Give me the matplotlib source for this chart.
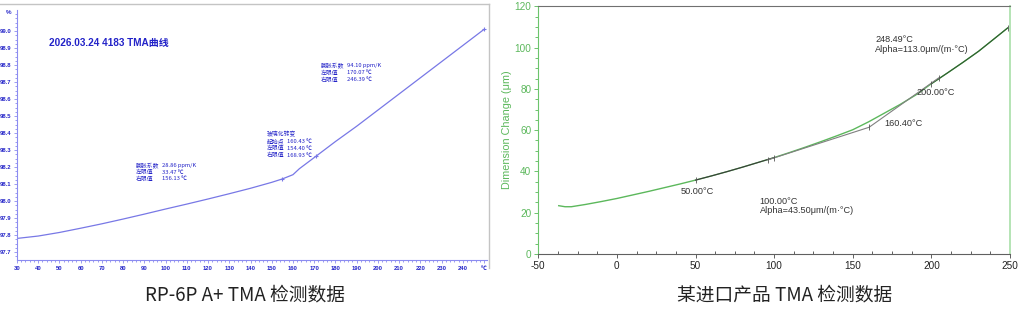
import numpy as np
import matplotlib
matplotlib.use("Agg")
import matplotlib.pyplot as plt
from matplotlib.lines import Line2D
from matplotlib.ticker import MultipleLocator

plt.rcParams["font.family"] = ["Liberation Sans", "Noto Sans CJK SC", "DejaVu Sans"]
plt.rcParams["axes.unicode_minus"] = False
CJK = ["Noto Sans CJK SC", "DejaVu Sans"]

# ── Left: RP-6P A+ TMA curve (% vs °C) ────────────────────────────────────────
left_temp = [30, 40, 50, 60, 70, 80, 90, 100, 110, 120, 130, 140, 150, 155,
             160, 163, 171, 180, 190, 200, 210, 220, 230, 240, 250]
left_pct = [97.78, 97.794, 97.815, 97.84, 97.866, 97.894, 97.923, 97.953,
            97.982, 98.012, 98.043, 98.075, 98.11, 98.13, 98.155, 98.19,
            98.265, 98.35, 98.44, 98.535, 98.63, 98.725, 98.82, 98.915, 99.01]
left_marks_t = [155, 171, 250]
left_marks_v = [98.13, 98.265, 99.01]
left_xticks = list(range(30, 251, 10))
left_xlabels = [str(t) for t in left_xticks[:-1]] + ["℃"]
left_yticks = [97.7, 97.8, 97.9, 98.0, 98.1, 98.2, 98.3, 98.4, 98.5, 98.6,
               98.7, 98.8, 98.9, 99.0]
left_title = "2026.03.24 4183 TMA曲线"
block1 = [("膨胀系数", "28.86 ppm/K"), ("左限值", "33.47 ℃"), ("右限值", "156.13 ℃")]
block2 = [("玻璃化转变", ""), ("起始点", "160.43 ℃"), ("左限值", "154.40 ℃"),
          ("右限值", "168.93 ℃")]
block3 = [("膨胀系数", "94.10 ppm/K"), ("左限值", "170.07 ℃"), ("右限值", "246.39 ℃")]
left_caption = "RP-6P A+ TMA 检测数据"

# ── Right: imported product TMA (µm vs °C) ────────────────────────────────────
right_temp = [-37, -33, -29, -20, -10, 0, 10, 20, 30, 40, 50, 60, 70, 80, 90,
              100, 110, 120, 130, 140, 150, 160, 170, 180, 190, 200, 210, 220,
              230, 240, 248.5]
right_dim = [23.4, 22.9, 22.9, 24.0, 25.4, 26.9, 28.6, 30.3, 32.1, 33.9, 35.8,
             37.8, 39.9, 42.1, 44.4, 46.7, 49.2, 51.8, 54.5, 57.3, 60.2, 64.0,
             68.2, 72.4, 77.0, 82.5, 87.6, 92.8, 98.2, 104.3, 109.5]
tangent_t = [96, 160.4, 204.6]
tangent_v = [45.6, 61.4, 85.3]
mark_t = [50, 96, 100, 160.4, 200, 204.6, 248.49]
mark_v = [35.8, 45.6, 46.6, 61.4, 82.5, 85.3, 109.5]
right_caption = "某进口产品 TMA 检测数据"

BLUE = "#2323c8"
CURVE = "#7878e6"
GREEN = "#5cb85c"

fig = plt.figure(figsize=(10.19, 3.12), dpi=100)

# ── Left panel ────────────────────────────────────────────────────────────────
ax1 = fig.add_axes([17 / 1019, 52 / 312, 470 / 1019, 250 / 312])
ax1.plot(left_temp, left_pct, color=CURVE, lw=0.9)
ax1.plot(left_marks_t, left_marks_v, ls="none", marker="+", ms=3,
         mew=0.8, color=CURVE)
ax1.set_xlim(30, 251.4)
ax1.set_ylim(97.653, 99.124)
ax1.spines[["top", "right"]].set_visible(False)
for s in ("left", "bottom"):
    ax1.spines[s].set_color("#8c8cf0")
    ax1.spines[s].set_linewidth(0.8)
ax1.set_xticks(left_xticks)
ax1.set_xticklabels(left_xlabels)
ax1.set_yticks(left_yticks)
ax1.set_yticklabels([f"{v:.1f}" for v in left_yticks])
ax1.xaxis.set_minor_locator(MultipleLocator(2))
ax1.yaxis.set_minor_locator(MultipleLocator(0.025))
ax1.tick_params(which="both", colors="#8c8cf0", labelcolor=BLUE,
                labelsize=4.2, length=2, width=0.6, pad=2)
ax1.tick_params(which="minor", length=1.2)
for lab in ax1.get_xticklabels() + ax1.get_yticklabels():
    lab.set_fontweight("bold")
ax1.text(-0.012, 1.0 - 3 / 250, "%", transform=ax1.transAxes, ha="right",
         va="center", fontsize=4.5, color=BLUE, fontweight="bold")
ax1.text(32 / 470, 1 - 33 / 250, left_title, transform=ax1.transAxes,
         fontsize=7.2, color=BLUE, fontweight="bold", va="center")


def draw_block(rows, x_lab, x_val, y0, dy=7.0):
    for i, (lab, val) in enumerate(rows):
        y = 1 - (y0 + i * dy - 10) / 250
        ax1.text((x_lab - 17) / 470, y, lab, transform=ax1.transAxes,
                 fontsize=4.2, color=BLUE, va="center", family=CJK)
        if val:
            ax1.text((x_val - 17) / 470, y, val, transform=ax1.transAxes,
                     fontsize=4.2, color=BLUE, va="center", family=CJK)


draw_block(block1, 136, 162.5, 165)
draw_block(block2, 267, 287, 134.3)
draw_block(block3, 321, 347, 65.7)

# gray frame of the left screenshot
fig.add_artist(Line2D([0, 489 / 1019], [1 - 4 / 312] * 2, color="#c4c4c4", lw=1))
fig.add_artist(Line2D([489 / 1019] * 2, [1 - 4 / 312, 1 - 268 / 312],
                      color="#c4c4c4", lw=1))

# ── Right panel ───────────────────────────────────────────────────────────────
ax2 = fig.add_axes([538.3 / 1019, 58 / 312, 471.7 / 1019, 247.7 / 312])
rt = np.array(right_temp)
rd = np.array(right_dim)
ax2.plot(rt, rd, color=GREEN, lw=1.0, zorder=2)
m1 = (rt >= 50) & (rt <= 100)
m2 = rt >= 200
ax2.plot(rt[m1], rd[m1], color="#3a3a3a", lw=0.8, zorder=3)
ax2.plot(rt[m2], rd[m2], color="#2f5a2f", lw=0.8, zorder=3)
ax2.plot(tangent_t, tangent_v, color="#808080", lw=0.8, zorder=3)
ax2.plot(mark_t, mark_v, ls="none", marker="|", ms=5, mew=0.6,
         color="#555555", zorder=4)
ax2.set_xlim(-50, 250)
ax2.set_ylim(0, 120)
ax2.set_xticks([-50, 0, 50, 100, 150, 200, 250])
ax2.set_yticks([0, 20, 40, 60, 80, 100, 120])
ax2.xaxis.set_minor_locator(MultipleLocator(12.5))
ax2.yaxis.set_minor_locator(MultipleLocator(5))
ax2.spines["left"].set_color("#6cc46c")
ax2.spines["right"].set_color("#b4e4b4")
ax2.spines["right"].set_linewidth(1.4)
ax2.spines["top"].set_color("#707070")
ax2.spines["bottom"].set_color("#606060")
ax2.tick_params(axis="y", which="both", colors="#6cc46c", labelcolor=GREEN,
                labelsize=7.2, length=3, width=0.7, pad=2)
ax2.tick_params(axis="y", which="minor", length=2)
ax2.tick_params(axis="x", which="both", colors="#606060", labelcolor="#222222",
                labelsize=7.2, length=3, width=0.7, pad=2)
ax2.tick_params(axis="x", which="minor", direction="in", length=2)
ax2.set_ylabel("Dimension Change (μm)", color=GREEN, fontsize=7.8, labelpad=2)

ann = dict(fontsize=6.6, color="#333333", va="center", ha="left")
ax2.text(40.5, 30.5, "50.00°C", **ann)
ax2.text(90.7, 23.3, "100.00°C\nAlpha=43.50μm/(m·°C)", linespacing=1.1, **ann)
ax2.text(170.2, 63.0, "160.40°C", **ann)
ax2.text(190.5, 78.0, "200.00°C", **ann)
ax2.text(164.2, 101.5, "248.49°C\nAlpha=113.0μm/(m·°C)", linespacing=1.1, **ann)

# ── Captions ──────────────────────────────────────────────────────────────────
fig.text(245 / 1019, 1 - 295 / 312, left_caption, ha="center", va="center",
         fontsize=13.5, color="#222222", family=CJK)
fig.text(785 / 1019, 1 - 295 / 312, right_caption, ha="center", va="center",
         fontsize=13.5, color="#222222", family=CJK)

fig.savefig("out.png", dpi=100)
